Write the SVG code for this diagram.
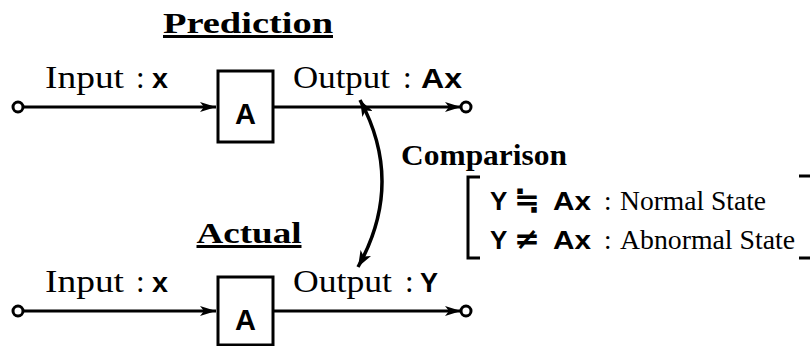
<svg xmlns="http://www.w3.org/2000/svg" width="810" height="346" viewBox="0 0 810 346">
  <style>
    .title { font-family: "Liberation Serif", "Times New Roman", serif; font-weight: bold; font-size: 30px; fill: #000; text-decoration: underline; }
    .bold { font-family: "Liberation Serif", "Times New Roman", serif; font-weight: bold; fill: #000; }
    .lbl { font-family: "Liberation Serif", "Times New Roman", serif; font-size: 31px; fill: #000; }
    .st { font-family: "Liberation Serif", "Times New Roman", serif; font-size: 27px; fill: #000; }
    .rel { font-family: "DejaVu Sans", sans-serif; font-weight: bold; font-size: 30px; fill: #000; }
    .var { font-family: "Liberation Sans", Arial, sans-serif; font-weight: bold; fill: #000; }
    .wire { stroke: #000; stroke-width: 3; fill: none; }
    .box { stroke: #000; stroke-width: 3; fill: #fff; }
    .term { stroke: #000; stroke-width: 3; fill: #fff; }
  </style>
  <defs>
    <marker id="arr" viewBox="0 0 16 10" refX="16" refY="5" markerWidth="16" markerHeight="10" markerUnits="userSpaceOnUse" orient="auto">
      <path d="M0,0 L16,5 L0,10 L4,5 Z" fill="#000"/>
    </marker>
    <marker id="arc" viewBox="0 0 16 12" refX="16" refY="6" markerWidth="16" markerHeight="12" markerUnits="userSpaceOnUse" orient="auto-start-reverse">
      <path d="M0,0 L16,6 L0,12 L4,6 Z" fill="#000"/>
    </marker>
  </defs>
  <rect width="810" height="346" fill="#fff"/>

  <!-- signal wires and the comparison arc -->
  <g id="connectors">
    <line class="wire" x1="23" y1="107" x2="216" y2="107" marker-end="url(#arr)"/>
    <line class="wire" x1="273" y1="107" x2="461" y2="107" marker-end="url(#arr)"/>
    <line class="wire" x1="23" y1="311" x2="216" y2="311" marker-end="url(#arr)"/>
    <line class="wire" x1="273" y1="311" x2="461" y2="311" marker-end="url(#arr)"/>
    <path class="wire" d="M360,100 Q405,183 358,267" marker-start="url(#arc)" marker-end="url(#arc)" style="stroke-width:3.5"/>
  </g>

  <!-- prediction row -->
  <g id="prediction">
    <text class="title" x="248" y="33" text-anchor="middle" textLength="170" lengthAdjust="spacingAndGlyphs">Prediction</text>
    <circle class="term" cx="18" cy="107" r="5"/>
    <g id="pred-in-label">
      <text class="lbl" x="45" y="88" textLength="79" lengthAdjust="spacingAndGlyphs">Input</text>
      <text class="lbl" x="136" y="88">:</text>
      <text class="var" x="152" y="88" font-size="27" textLength="16" lengthAdjust="spacingAndGlyphs">x</text>
    </g>
    <g id="pred-A">
      <rect class="box" x="218" y="71" width="55" height="71"/>
      <text class="var" x="245.5" y="124" font-size="29" text-anchor="middle">A</text>
    </g>
    <g id="pred-out-label">
      <text class="lbl" x="293" y="88" textLength="97" lengthAdjust="spacingAndGlyphs">Output</text>
      <text class="lbl" x="403" y="88">:</text>
      <text class="var" x="421" y="88" font-size="27" textLength="41" lengthAdjust="spacingAndGlyphs">Ax</text>
    </g>
    <circle class="term" cx="466" cy="107" r="5"/>
  </g>

  <!-- actual row -->
  <g id="actual">
    <text class="title" x="249" y="243" text-anchor="middle" textLength="105" lengthAdjust="spacingAndGlyphs">Actual</text>
    <circle class="term" cx="18" cy="311" r="5"/>
    <g id="act-in-label">
      <text class="lbl" x="45" y="292" textLength="79" lengthAdjust="spacingAndGlyphs">Input</text>
      <text class="lbl" x="136" y="292">:</text>
      <text class="var" x="152" y="292" font-size="27" textLength="16" lengthAdjust="spacingAndGlyphs">x</text>
    </g>
    <g id="act-A">
      <rect class="box" x="218" y="277" width="55" height="68"/>
      <text class="var" x="245.5" y="330" font-size="29" text-anchor="middle">A</text>
    </g>
    <g id="act-out-label">
      <text class="lbl" x="293" y="292" textLength="99" lengthAdjust="spacingAndGlyphs">Output</text>
      <text class="lbl" x="405" y="292">:</text>
      <text class="var" x="420" y="292" font-size="27" textLength="18" lengthAdjust="spacingAndGlyphs">Y</text>
    </g>
    <circle class="term" cx="466" cy="311" r="5"/>
  </g>

  <!-- comparison criteria -->
  <g id="comparison">
    <text class="bold" x="401" y="165" font-size="30" textLength="166" lengthAdjust="spacingAndGlyphs">Comparison</text>
    <path class="wire" d="M480,177 H468 V258 H480"/>
    <path class="wire" d="M799,176 H810 M799,258 H810"/>
    <g id="normal">
      <text class="var" x="490" y="210" font-size="26">Y</text>
      <text class="rel" x="514" y="210" textLength="26" lengthAdjust="spacingAndGlyphs">≒</text>
      <text class="var" x="553" y="210" font-size="26" textLength="38" lengthAdjust="spacingAndGlyphs">Ax</text>
      <text class="st" x="604" y="210">:</text>
      <text class="st" x="620" y="210" textLength="146" lengthAdjust="spacingAndGlyphs">Normal State</text>
    </g>
    <g id="abnormal">
      <text class="var" x="490" y="249" font-size="26">Y</text>
      <text class="rel" x="514" y="249" textLength="26" lengthAdjust="spacingAndGlyphs">≠</text>
      <text class="var" x="553" y="249" font-size="26" textLength="38" lengthAdjust="spacingAndGlyphs">Ax</text>
      <text class="st" x="604" y="249">:</text>
      <text class="st" x="620" y="249" textLength="175" lengthAdjust="spacingAndGlyphs">Abnormal State</text>
    </g>
  </g>
</svg>
